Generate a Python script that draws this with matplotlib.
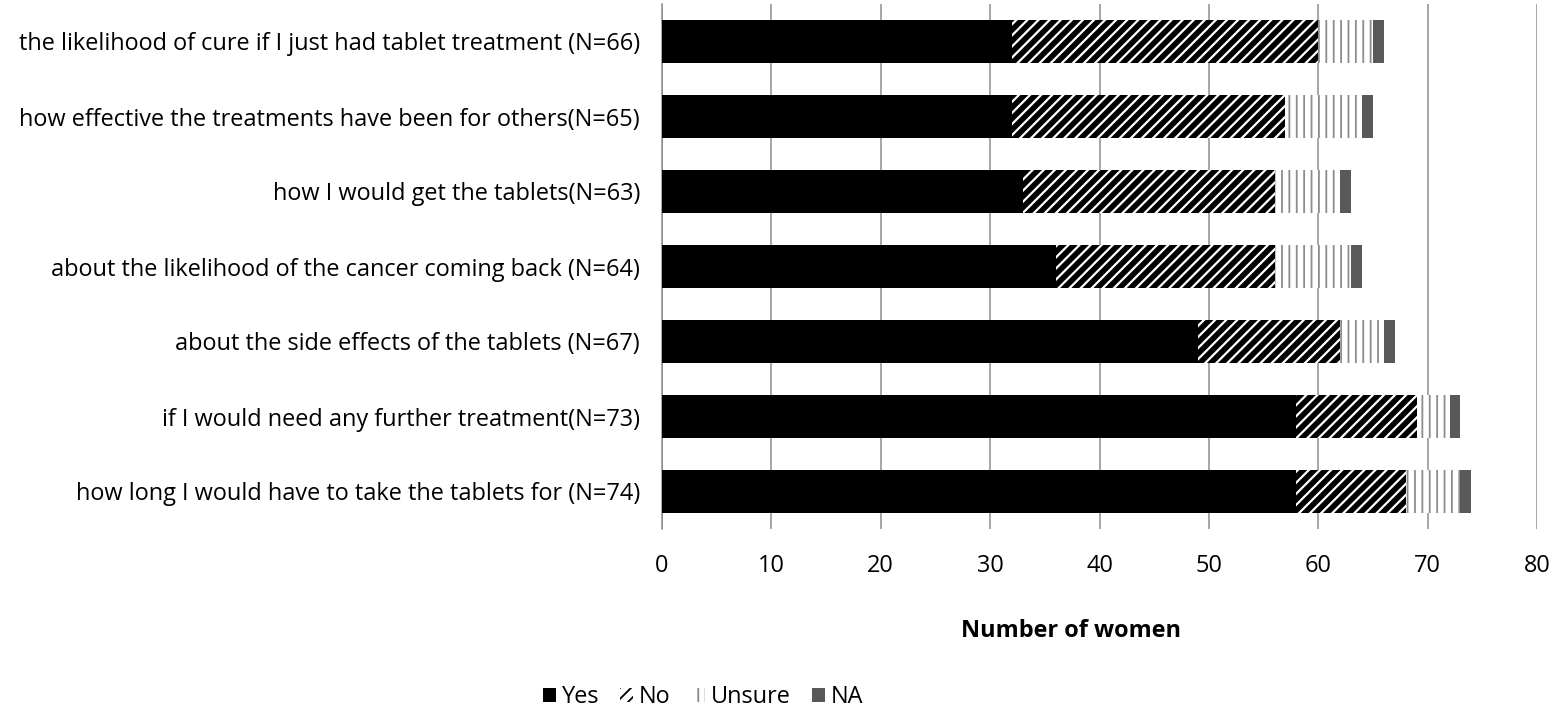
import numpy as np
import matplotlib
import matplotlib.pyplot as plt
from matplotlib.patches import Patch

questions = [
    "how long I would have to take the tablets for (N=74)",
    "if I would need any further treatment(N=73)",
    "about the side effects of the tablets (N=67)",
    "about the likelihood of the cancer coming back (N=64)",
    "how I would get the tablets(N=63)",
    "how effective the treatments have been for others(N=65)",
    "the likelihood of cure if I just had tablet treatment (N=66)",
]
yes = [58, 58, 49, 36, 33, 32, 32]
no = [10, 11, 13, 20, 23, 25, 28]
unsure = [5, 3, 4, 7, 6, 7, 5]
na = [1, 1, 1, 1, 1, 1, 1]

DPI = 133
W, H = 1567, 711


def px(p):
    # pixel size -> points at this dpi
    return p * 72 / DPI


plt.rcParams['font.family'] = ['Open Sans', 'DejaVu Sans']
FS = px(23.5)
NO_HATCH_LW = px(5.6)
UN_HATCH_LW = px(1.8)

fig = plt.figure(figsize=(W / DPI, H / DPI), dpi=DPI)
ax = fig.add_axes([662 / W, 1 - 529 / H, 875 / W, 525 / H])

y = np.arange(len(questions))
h = 0.57

ax.barh(y, yes, height=h, color='black', linewidth=0, zorder=3)

left = np.array(yes)
with plt.rc_context({'hatch.linewidth': NO_HATCH_LW}):
    ax.barh(y, no, height=h, left=left, facecolor='white', edgecolor='black',
            hatch='////', linewidth=0, zorder=3)

left = left + np.array(no)
with plt.rc_context({'hatch.linewidth': UN_HATCH_LW}):
    ax.barh(y, unsure, height=h, left=left, facecolor='white', edgecolor='#8c8c8c',
            hatch='|||', linewidth=0, zorder=3)

left = left + np.array(unsure)
ax.barh(y, na, height=h, left=left, color='#595959', linewidth=0, zorder=3)

ax.set_xlim(0, 80)
ax.set_ylim(-0.5, len(questions) - 0.5)
ax.set_xticks(np.arange(0, 81, 10))
ax.set_yticks(y)
ax.set_yticklabels(questions)
ax.grid(axis='x', color='#8c8c8c', linewidth=px(1.5), zorder=0)
ax.tick_params(axis='both', length=0, labelsize=FS)
ax.tick_params(axis='y', pad=px(22))
ax.tick_params(axis='x', pad=px(25))
for s in ['top', 'right', 'bottom']:
    ax.spines[s].set_visible(False)
ax.spines['left'].set_color('#8c8c8c')
ax.spines['left'].set_linewidth(px(1.5))

ax.set_xlabel('Number of women', fontsize=FS, fontweight='bold')
ax.xaxis.set_label_coords((1071 - 662) / 875, (529 - 631) / 525)
ax.xaxis.label.set_va('center')

with plt.rc_context({'hatch.linewidth': NO_HATCH_LW}):
    h_no = Patch(facecolor='white', edgecolor='black', hatch='////', linewidth=0)
with plt.rc_context({'hatch.linewidth': UN_HATCH_LW}):
    h_un = Patch(facecolor='white', edgecolor='#8c8c8c', hatch='|||', linewidth=0)
handles = [
    Patch(facecolor='black', linewidth=0),
    h_no,
    h_un,
    Patch(facecolor='#595959', linewidth=0),
]
fig.legend(handles, ['Yes', 'No', 'Unsure', 'NA'], loc='center', bbox_to_anchor=(703 / W, 1 - 697 / H),
           ncol=4, frameon=False, fontsize=FS, handlelength=0.55, handleheight=0.55,
           handletextpad=0.25, columnspacing=0.9, borderpad=0)

fig.savefig('out.png', dpi=DPI)
